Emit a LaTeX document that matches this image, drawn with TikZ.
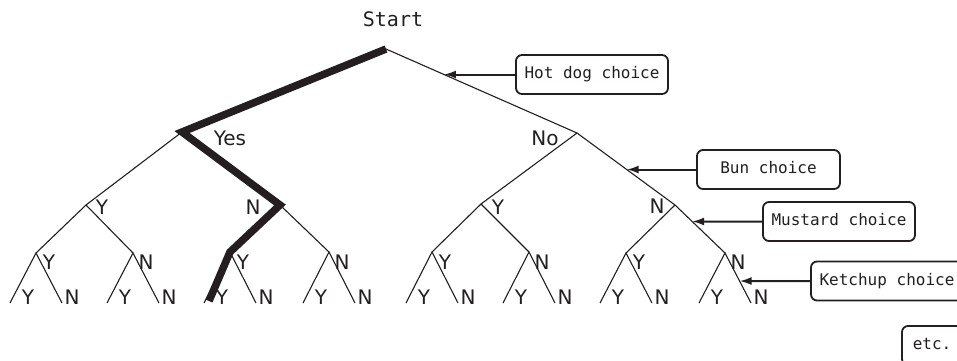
\documentclass[tikz,border=0pt]{standalone}
\usepackage{fontspec}
\setmainfont{DejaVu Sans}
\newfontfamily\monofont{DejaVu Sans Mono}
\usetikzlibrary{arrows.meta}
\definecolor{ink}{RGB}{35,31,32}
\begin{document}
\begin{tikzpicture}[x=1pt,y=-1pt,
  branch/.style={draw=ink, line width=1.1pt},
  yn/.style={text=ink, inner sep=0pt, font=\fontsize{20}{24}\selectfont},
  choice/.style={draw=ink, line width=1.8pt, rounded corners=6pt, minimum width=152pt,
    minimum height=39pt, inner sep=0pt, text height=12pt, text depth=3.5pt,
    font=\monofont\fontsize{16}{19}\selectfont, text=ink},
  pointer/.style={draw=ink, line width=2pt, -{Latex[length=12pt,width=8pt]}},
  chosen/.style={draw=ink, line width=7.5pt, line join=miter, line cap=butt}]
\useasboundingbox (0,0) rectangle (957,360);

% tree points
\coordinate (r) at (386,49);
\coordinate (a) at (182,132);
\coordinate (b) at (577,133);
\coordinate (aa) at (86,205);
\coordinate (ab) at (280,205);
\coordinate (ba) at (481,204);
\coordinate (bb) at (675,205);

\draw[branch] (a) -- (r) -- (b);
\draw[branch] (aa) -- (a) -- (ab);
\draw[branch] (ba) -- (b) -- (bb);

\foreach \n/\p/\x/\y/\lab in {aaa/aa/36/253/Y, aab/aa/133/253/N, aba/ab/230/252/Y, abb/ab/329/252/N,
  baa/ba/432/252/Y, bab/ba/529/252/N, bba/bb/626/253/Y, bbb/bb/725/253/N}{
  \coordinate (\n) at (\x,\y);
  \coordinate (\n-L) at (\x-26,303);
  \coordinate (\n-R) at (\x+26,303);
  \draw[branch] (\p) -- (\n);
  \draw[branch] (\n-L) -- (\n) -- (\n-R);
  \node[yn] (\n-lab) at (\x+13,262) {\lab};
  \node[yn] (\n-Ly) at (\x-8,297.5) {Y};
  \node[yn] (\n-Rn) at (\x+36,297.5) {N};
}

% labels
\node[yn] (yes) at (230,138) {Yes};
\node[yn] (no) at (545,138) {No};
\node[yn] (aalab) at (102,207) {Y};
\node[yn] (ablab) at (253,207) {N};
\node[yn] (balab) at (498,207) {Y};
\node[yn] (bblab) at (657,206) {N};
\node[text=ink, inner sep=0pt, font=\monofont\fontsize{20}{24}\selectfont] (start) at (393,19.5) {Start};

% chosen path
\coordinate (pathend) at (209,301);
\draw[chosen] (r) -- (a) -- (ab) -- (aba) -- (pathend);

% choice boxes
\node[choice] (hotdog) at (592,74.5) {Hot dog choice};
\node[choice, minimum width=143pt] (bun) at (768.5,169.5) {Bun choice};
\node[choice] (mustard) at (839,221.5) {Mustard choice};
\node[choice] (ketchup) at (887,281) {Ketchup choice};
\node[choice, minimum width=60pt] (etc) at (932,345.5) {etc.};

% pointers
\coordinate (hdtip) at (intersection cs: first line={(r)--(b)}, second line={(hotdog.west)--([xshift=-100pt]hotdog.west)});
\coordinate (buntip) at (intersection cs: first line={(b)--(bb)}, second line={(bun.west)--([xshift=-100pt]bun.west)});
\coordinate (mutip) at (intersection cs: first line={(bb)--(bbb)}, second line={(mustard.west)--([xshift=-100pt]mustard.west)});
\coordinate (ketip) at (intersection cs: first line={(bbb)--(bbb-R)}, second line={(ketchup.west)--([xshift=-100pt]ketchup.west)});
\draw[pointer] (hotdog.west) -- (hdtip);
\draw[pointer] (bun.west) -- (buntip);
\draw[pointer] (mustard.west) -- (mutip);
\draw[pointer] (ketchup.west) -- (ketip);
\end{tikzpicture}
\end{document}
